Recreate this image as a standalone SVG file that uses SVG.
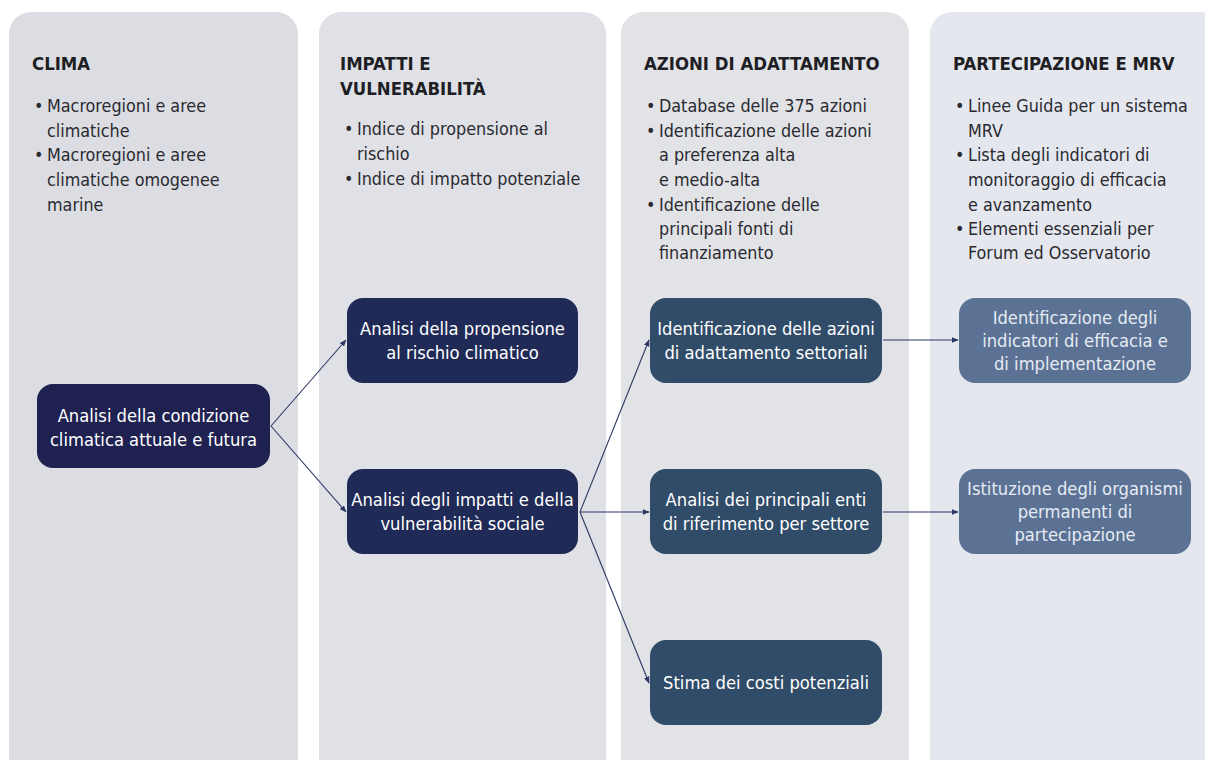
<svg xmlns="http://www.w3.org/2000/svg" width="1205" height="760" viewBox="0 0 1205 760">
<defs>
<style>
.panel{fill:#dfe0e6}
.ttl{font-family:"DejaVu Sans Condensed","DejaVu Sans",sans-serif;font-stretch:condensed;font-weight:bold;font-size:18.4px;fill:#1e1e24}
.bl{font-family:"DejaVu Sans Condensed","DejaVu Sans",sans-serif;font-stretch:condensed;font-size:17.8px;fill:#2a2a30}
.nt{font-family:"DejaVu Sans Condensed","DejaVu Sans",sans-serif;font-stretch:condensed;font-size:18.2px;fill:#ffffff;text-anchor:middle}
.n1{fill:#1f2150}
.n2{fill:#1f2a56}
.n3{fill:#304c68}
.n4{fill:#5b7295}
.n4t{fill:#e6ebf3}
.cn{fill:none;stroke:#2b3762;stroke-width:1.1}
</style>
<marker id="ah" viewBox="0 0 10 10" refX="9" refY="5" markerWidth="7" markerHeight="7" orient="auto" markerUnits="userSpaceOnUse">
<path d="M0,1 L10,5 L0,9 z" fill="#2b3762"/>
</marker>
</defs>
<rect width="1205" height="760" fill="#ffffff"/>
<g id="panel-clima">
<rect class="panel" x="9" y="12" width="289" height="780" rx="22" style="fill:#dcdde3"/>
<text class="ttl" x="32" y="70">CLIMA</text>
<text class="bl"><tspan x="34" y="112">•</tspan><tspan x="47" y="112">Macroregioni e aree</tspan><tspan x="47" y="137">climatiche</tspan><tspan x="34" y="161">•</tspan><tspan x="47" y="161">Macroregioni e aree</tspan><tspan x="47" y="186">climatiche omogenee</tspan><tspan x="47" y="211">marine</tspan></text>
</g>
<g id="panel-impatti">
<rect class="panel" x="319" y="12" width="287" height="780" rx="22" style="fill:#dfe1e7"/>
<text class="ttl"><tspan x="340" y="70">IMPATTI E</tspan><tspan x="340" y="95">VULNERABILITÀ</tspan></text>
<text class="bl"><tspan x="344" y="135">•</tspan><tspan x="357" y="135">Indice di propensione al</tspan><tspan x="357" y="160">rischio</tspan><tspan x="344" y="185">•</tspan><tspan x="357" y="185">Indice di impatto potenziale</tspan></text>
</g>
<g id="panel-azioni">
<rect class="panel" x="621" y="12" width="288" height="780" rx="22" style="fill:#e1e3e7"/>
<text class="ttl" x="644" y="70">AZIONI DI ADATTAMENTO</text>
<text class="bl"><tspan x="646" y="112">•</tspan><tspan x="659" y="112">Database delle 375 azioni</tspan><tspan x="646" y="137">•</tspan><tspan x="659" y="137">Identificazione delle azioni</tspan><tspan x="659" y="161">a preferenza alta</tspan><tspan x="659" y="186">e medio-alta</tspan><tspan x="646" y="211">•</tspan><tspan x="659" y="211">Identificazione delle</tspan><tspan x="659" y="235">principali fonti di</tspan><tspan x="659" y="259">finanziamento</tspan></text>
</g>
<g id="panel-partecipazione">
<rect class="panel" x="930" y="12" width="300" height="780" rx="22" style="fill:#e4e7ee"/>
<text class="ttl" x="953" y="70">PARTECIPAZIONE E MRV</text>
<text class="bl"><tspan x="955" y="112">•</tspan><tspan x="968" y="112">Linee Guida per un sistema</tspan><tspan x="968" y="137">MRV</tspan><tspan x="955" y="161">•</tspan><tspan x="968" y="161">Lista degli indicatori di</tspan><tspan x="968" y="186">monitoraggio di efficacia</tspan><tspan x="968" y="211">e avanzamento</tspan><tspan x="955" y="235">•</tspan><tspan x="968" y="235">Elementi essenziali per</tspan><tspan x="968" y="259">Forum ed Osservatorio</tspan></text>
</g>
<g id="connectors">
<path class="cn" d="M271,426 L346,340" marker-end="url(#ah)"/>
<path class="cn" d="M271,426 L346,512" marker-end="url(#ah)"/>
<path class="cn" d="M580,512 L649,340" marker-end="url(#ah)"/>
<path class="cn" d="M580,512 L649,512" marker-end="url(#ah)"/>
<path class="cn" d="M580,512 L649,683" marker-end="url(#ah)"/>
<path class="cn" d="M883,340 L958,340" marker-end="url(#ah)"/>
<path class="cn" d="M883,512 L958,512" marker-end="url(#ah)"/>
</g>
<g id="node-condizione">
<rect class="n1" x="37" y="384" width="233" height="84" rx="16"/>
<text class="nt"><tspan x="153.5" y="422">Analisi della condizione</tspan><tspan x="153.5" y="446">climatica attuale e futura</tspan></text>
</g>
<g id="node-propensione">
<rect class="n2" x="347" y="298" width="231" height="85" rx="16"/>
<text class="nt"><tspan x="462.5" y="335">Analisi della propensione</tspan><tspan x="462.5" y="359">al rischio climatico</tspan></text>
</g>
<g id="node-impatti">
<rect class="n2" x="347" y="469" width="231" height="85" rx="16"/>
<text class="nt"><tspan x="462.5" y="506">Analisi degli impatti e della</tspan><tspan x="462.5" y="530">vulnerabilità sociale</tspan></text>
</g>
<g id="node-azioni">
<rect class="n3" x="650" y="298" width="232" height="85" rx="16"/>
<text class="nt"><tspan x="766" y="335">Identificazione delle azioni</tspan><tspan x="766" y="359">di adattamento settoriali</tspan></text>
</g>
<g id="node-enti">
<rect class="n3" x="650" y="469" width="232" height="85" rx="16"/>
<text class="nt"><tspan x="766" y="506">Analisi dei principali enti</tspan><tspan x="766" y="530">di riferimento per settore</tspan></text>
</g>
<g id="node-costi">
<rect class="n3" x="650" y="640" width="232" height="85" rx="16"/>
<text class="nt" x="766" y="689">Stima dei costi potenziali</text>
</g>
<g id="node-indicatori">
<rect class="n4" x="959" y="298" width="232" height="85" rx="16"/>
<text class="nt n4t"><tspan x="1075" y="324">Identificazione degli</tspan><tspan x="1075" y="347">indicatori di efficacia e</tspan><tspan x="1075" y="370">di implementazione</tspan></text>
</g>
<g id="node-organismi">
<rect class="n4" x="959" y="469" width="232" height="85" rx="16"/>
<text class="nt n4t"><tspan x="1075" y="495">Istituzione degli organismi</tspan><tspan x="1075" y="518">permanenti di</tspan><tspan x="1075" y="541">partecipazione</tspan></text>
</g>
</svg>
